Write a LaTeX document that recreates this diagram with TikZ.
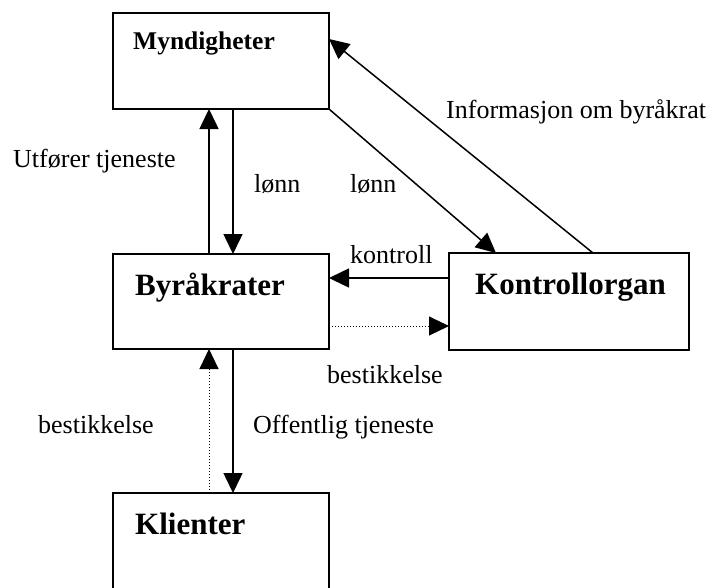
\documentclass[tikz,border=0pt]{standalone}
\usepackage{fontspec}
\setmainfont{Liberation Serif}
\usetikzlibrary{arrows.meta}
\tikzset{
  box/.style={draw, line width=1.5pt, rectangle, inner sep=0pt, outer sep=0pt},
  arr/.style={line width=1.5pt, -{Triangle[length=20pt,width=19pt]}},
  dotarr/.style={line width=1pt, dotted, -{Triangle[length=20pt,width=19pt]}},
  lbl/.style={anchor=base west, inner sep=0pt, font=\fontsize{26}{30}\selectfont},
  title/.style={anchor=base west, inner sep=0pt, font=\fontsize{31}{36}\selectfont\bfseries},
  smalltitle/.style={anchor=base west, inner sep=0pt, font=\fontsize{25.5}{30}\selectfont\bfseries}
}
\begin{document}
\begin{tikzpicture}[x=1pt,y=-1pt]
\clip (0,0) rectangle (712,587);
\fill[white] (0,0) rectangle (712,587);
% boxes
\node[box, minimum width=216pt, minimum height=96pt] (mynd) at (221,61) {};
\node[box, minimum width=216pt, minimum height=95pt] (byr) at (221,301.5) {};
\node[box, minimum width=240pt, minimum height=97pt] (kon) at (569,301.5) {};
\node[box, minimum width=216pt, minimum height=130pt] (kli) at (221,558) {};
% titles
\node[smalltitle] (tmynd) at (133,49) {Myndigheter};
\node[title] (tbyr) at (135,295) {Byråkrater};
\node[title] (tkon) at (475,294) {Kontrollorgan};
\node[title] (tkli) at (135,534) {Klienter};
% connectors
\draw[arr] ([xshift=96pt]byr.north west) -- ([xshift=96pt]mynd.south west);
\draw[arr] ([xshift=120pt]mynd.south west) -- ([xshift=120pt]byr.north west);
\draw[arr] (mynd.south east) -- ([xshift=47pt]kon.north west);
\draw[arr] ([xshift=144pt]kon.north west) -- ([yshift=-26pt]mynd.north east);
\draw[arr] ([yshift=-25pt]kon.north west) -- ([yshift=-24pt]byr.north east);
\draw[dotarr] ([yshift=-72pt]byr.north east) -- ([yshift=-73pt]kon.north west);
\draw[dotarr] ([xshift=96pt]kli.north west) -- ([xshift=96pt]byr.south west);
\draw[arr] ([xshift=120pt]byr.south west) -- ([xshift=120pt]kli.north west);
% labels
\node[lbl] (l1) at (13,167) {Utfører tjeneste};
\node[lbl] (l2) at (254,192) {lønn};
\node[lbl] (l3) at (350,192) {lønn};
\node[lbl] (l4) at (446,118) {Informasjon om byråkrat};
\node[lbl] (l5) at (350,263) {kontroll};
\node[lbl] (l6) at (327,383) {bestikkelse};
\node[lbl] (l7) at (38,433) {bestikkelse};
\node[lbl] (l8) at (253,433) {Offentlig tjeneste};
\end{tikzpicture}
\end{document}
